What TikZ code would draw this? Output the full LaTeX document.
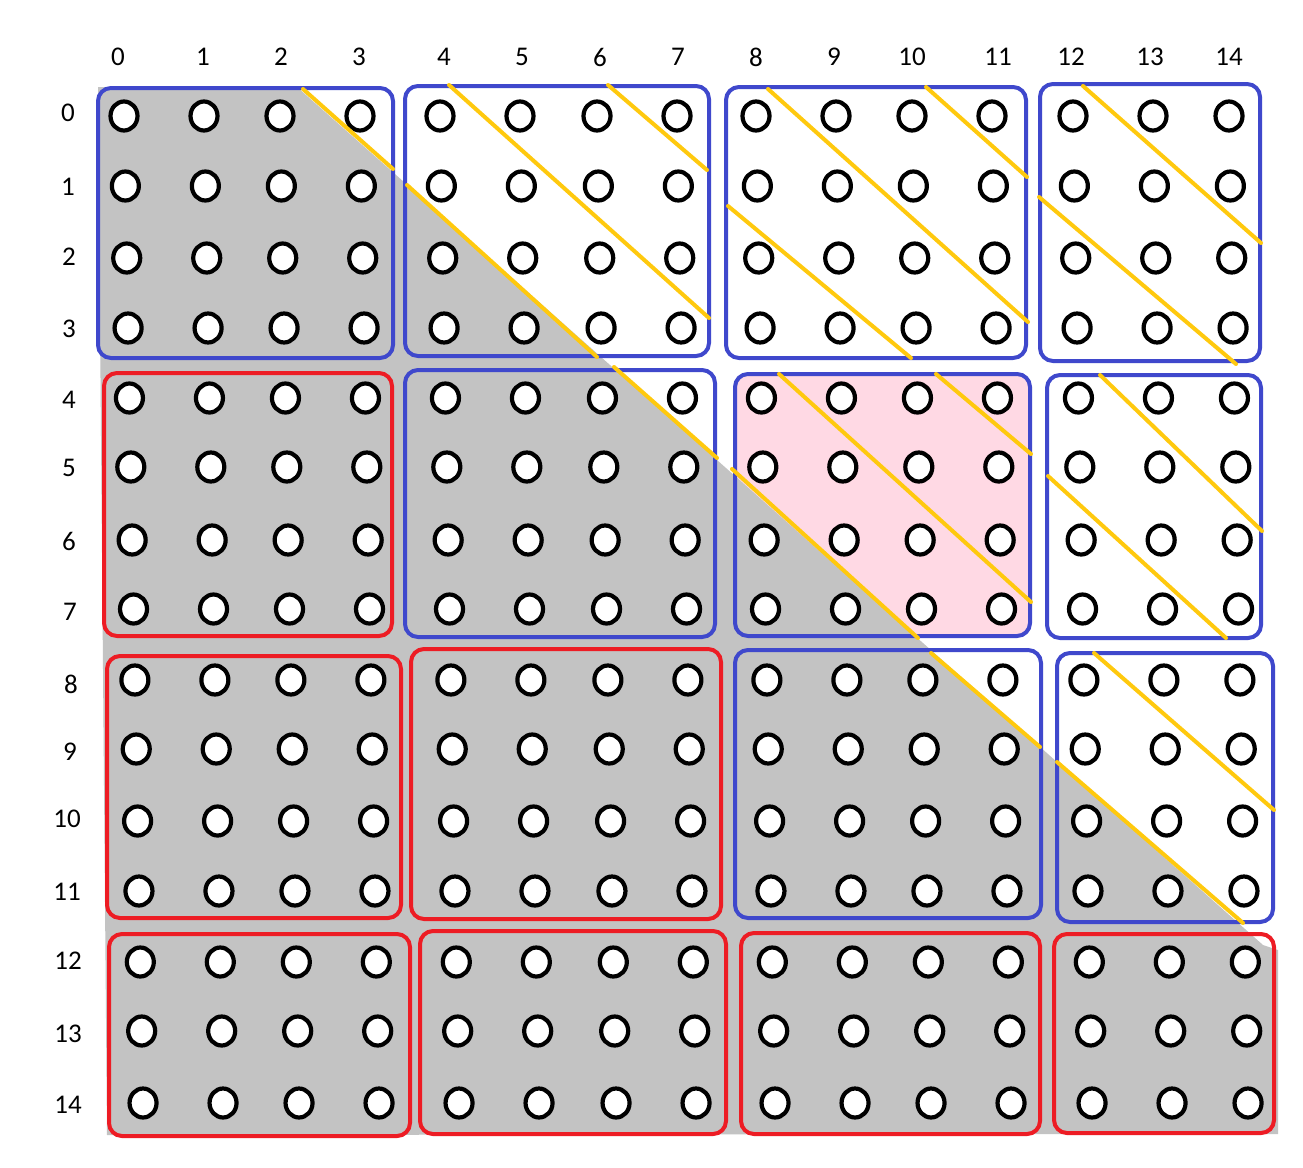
\documentclass[tikz,border=0pt]{standalone}
\usepackage{fontspec}
\setmainfont{Carlito}
\usetikzlibrary{shapes.geometric}
\definecolor{bblue}{RGB}{63,72,204}
\definecolor{rred}{RGB}{237,28,36}
\definecolor{ggray}{RGB}{195,195,195}
\definecolor{gold}{RGB}{255,201,14}
\definecolor{pinkfill}{RGB}{255,217,228}
\begin{document}
\begin{tikzpicture}[x=1pt,y=-1pt,
  dot/.style={ellipse, draw=black, line width=4.2pt, fill=white, minimum width=27pt, minimum height=29pt, inner sep=0pt},
  bluebox/.style={draw=bblue, line width=4pt, rounded corners=13pt},
  redbox/.style={draw=rred, line width=4pt, rounded corners=13pt},
  band/.style={draw=gold, line width=4pt, line cap=round},
  lab/.style={inner sep=0pt, font=\fontsize{27}{32}\selectfont}]
\useasboundingbox (0,0) rectangle (1303,1167);
\fill[white] (0,0) rectangle (1303,1167);
% pink block
\fill[pinkfill, rounded corners=13pt] (735,374) rectangle (1030,636);
% gray lower part
\fill[ggray] (98,87) -- (297,87) -- (1263,945) -- (1278,950) -- (1278,1134) -- (107,1135) -- cycle;
% block outlines
\draw[bluebox] (98,88) rectangle (393,358);
\draw[bluebox] (405,86) rectangle (709,356);
\draw[bluebox] (726,87) rectangle (1026,358);
\draw[bluebox] (1040,84) rectangle (1260,361);
\draw[redbox] (104,373) rectangle (392,636);
\draw[bluebox] (405,370) rectangle (715,637);
\draw[bluebox] (735,374) rectangle (1030,636);
\draw[bluebox] (1047,375) rectangle (1261,638);
\draw[redbox] (107,656) rectangle (401,918);
\draw[redbox] (411,649) rectangle (721,919);
\draw[bluebox] (735,650) rectangle (1041,918);
\draw[bluebox] (1057,653) rectangle (1273,922);
\draw[redbox] (109,934) rectangle (410,1136);
\draw[redbox] (420,931) rectangle (726,1134);
\draw[redbox] (741,933) rectangle (1040,1134);
\draw[redbox] (1054,934) rectangle (1274,1133);
% circles
\foreach \i/\y in {0/116,1/186,2/258,3/328,4/398,5/467,6/540,7/609,8/680,9/749,10/821,11/891,12/962,13/1031,14/1103}{
  \foreach \j/\x in {0/124,1/204,2/280,3/360,4/440,5/520,6/597,7/677,8/756,9/836,10/912,11/992,12/1073,13/1153,14/1229}{
    \node[dot] (c\i-\j) at ({\x+1.36*\i},\y) {};
  }
}
% yellow diagonal bands
\draw[band] (303,89) -- (393,169);
\draw[band] (407,185) -- (597,357);
\draw[band] (449,85) -- (709,318);
\draw[band] (608,85) -- (707,170);
\draw[band] (768,89) -- (1028,322);
\draw[band] (926,87) -- (1027,177);
\draw[band] (728,206) -- (911,358);
\draw[band] (1083,86) -- (1261,243);
\draw[band] (1039,197) -- (1236,364);
\draw[band] (614,367) -- (717,458);
\draw[band] (732,469) -- (918,638);
\draw[band] (779,374) -- (1031,602);
\draw[band] (936,374) -- (1031,454);
\draw[band] (1100,375) -- (1262,531);
\draw[band] (1048,476) -- (1226,638);
\draw[band] (931,653) -- (1040,747);
\draw[band] (1057,762) -- (1243,923);
\draw[band] (1094,653) -- (1274,810);
% column labels
\foreach \j/\x in {0/118,1/203,2/281,3/359,4/444,5/522,6/600,7/678,8/756,9/834,10/912,11/998,12/1071,13/1150,14/1229}{
  \node[lab] (col\j) at (\x,57) {\j};
}
% row labels
\foreach \i/\x/\y in {0/68/113,1/68/187,2/69/257,3/69/329,4/69/400,5/69/468,6/69/541,7/70/612,8/71/684,9/70/752,10/67/819,11/67/892,12/68/961,13/68/1034,14/68/1105}{
  \node[lab] (row\i) at (\x,\y) {\i};
}
\end{tikzpicture}
\end{document}
